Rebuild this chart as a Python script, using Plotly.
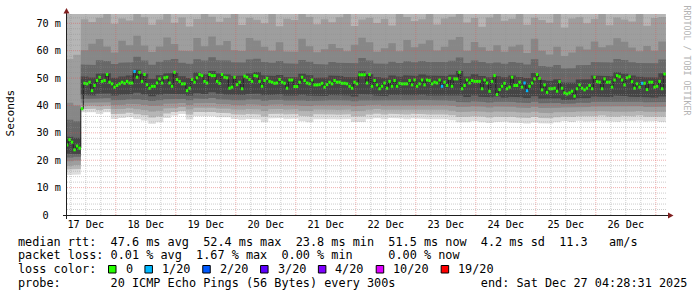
import plotly.graph_objects as go
from datetime import datetime, timedelta

# ---------------- data ----------------
graph_end = datetime(2025, 12, 27, 4, 28, 31)
graph_start = graph_end - timedelta(days=10)
data_end = datetime(2025, 12, 27, 4, 0, 0)
MEDIAN_STEP_H = 1
SMOKE_STEP_H = 3
Y_MAX = 73.4
ABOVE = 999.0  # ping beyond the top of the graph

# hourly median rtt (ms)
median_rtt = [
    25.6, 27.5, 26.6, 23.8, 25.2, 24.4, 38.8,
    48.1, 47.9, 48.5, 45.4, 47.3, 49.1, 50.3, 48.8, 49.1, 51.3, 48.5, 47.9, 46.7, 47.3,
    47.9, 48.5, 48.1, 48.8, 48.2, 48.2, 52.4, 50.3, 52.1, 48.8, 51.3, 47.6, 46.3, 47.0,
    47.0, 48.2, 49.7, 48.2, 50.1, 50.3, 48.2, 47.0, 52.1, 49.5, 48.8, 47.9, 47.9, 45.4,
    46.3, 49.5, 48.5, 50.1, 51.3, 50.9, 48.8, 48.2, 51.3, 50.9,
    50.9, 48.8, 48.1, 51.3, 50.3, 50.1, 46.3, 46.7, 50.3, 47.6, 48.5, 46.1, 50.7, 50.3,
    49.5, 48.8, 50.9, 50.7, 48.8, 47.0, 49.1, 49.9, 48.8, 48.5, 48.1, 48.2, 49.5, 48.5,
    48.1, 46.3, 49.3, 49.3, 46.9, 46.9, 48.5, 50.3, 49.1, 48.2, 47.9, 49.3, 47.5, 47.5,
    47.6, 48.1, 46.7, 47.6, 48.5, 47.9, 49.1, 48.5, 48.5, 48.1, 48.1, 47.9, 47.0, 46.3,
    48.5, 47.9, 51.2, 51.2, 51.2,
    48.2, 51.3, 47.0, 49.1, 47.5, 46.1, 47.0, 48.2, 46.3, 48.8, 47.0, 49.1, 47.0, 48.1,
    47.9, 47.9, 47.9, 49.1, 47.5, 49.3, 47.0, 47.9, 49.3, 47.5, 49.3, 49.1, 47.9, 48.5,
    48.2, 49.3, 47.0, 48.5, 47.3, 49.9, 47.0, 49.7, 49.7, 52.1, 46.1, 47.3, 49.3, 48.2,
    49.1, 48.8, 48.8, 48.8, 46.1, 49.3, 48.2, 45.2, 48.8, 50.9, 44.0, 45.8, 47.0, 48.1,
    46.1, 46.7, 50.3, 47.3,
    47.3, 48.5, 46.7, 48.2, 45.4, 47.0, 48.2, 49.7, 51.3, 49.9, 45.7, 47.5, 44.8, 46.1,
    46.1, 46.3, 45.2, 48.7, 46.3, 44.6, 44.2, 44.6, 45.2, 43.4, 46.1, 47.5, 46.3, 45.7,
    46.3, 47.3, 46.1, 50.3, 48.7, 48.5, 46.1, 49.7, 48.5, 48.5, 46.7, 49.3, 50.9, 50.5,
    49.3, 47.5, 50.1, 50.5, 48.7, 46.3, 47.9, 46.7, 48.1, 48.1, 45.8, 48.5, 48.5, 46.7,
    47.0, 48.8, 46.1, 51.5,
]

# hours (bin start) with packet loss, and lost pings out of 20
loss_times = ["2025-12-18 07:00", "2025-12-23 10:00", "2025-12-24 19:00",
              "2025-12-24 20:00", "2025-12-26 18:00"]
loss_pings = [1, 1, 1, 1, 1]

# smoke: 3-hourly band edges (ms), outer band first
smoke_L1 = [14.6, 14.8, 37.5, 37.5, 36.9, 37.5, 35.1, 35.4, 35.7, 35.1,
            34.5, 33.3, 33.9, 35.4, 36.3, 36.9, 34.9, 36.1, 36.3, 36.1,
            35.7, 35.7, 35.1, 34.8, 35.1, 34.9, 33.9, 35.2, 35.4, 35.0,
            35.2, 34.2, 33.9, 35.0, 35.2, 35.0, 34.9, 35.1, 34.0, 34.0,
            35.0, 35.3, 35.0, 35.4, 35.2, 35.0, 35.3, 35.1, 35.0, 35.2,
            35.0, 34.6, 33.9, 33.9, 34.2, 33.9, 33.6, 33.9, 34.1, 33.8,
            33.6, 33.4, 33.8, 33.5, 33.4, 33.9, 34.3, 34.0, 34.4, 34.1,
            34.3, 34.5, 34.2, 34.0, 34.4, 34.2, 34.5, 34.1, 34.3, 34.0]
smoke_L2 = [16.6, 16.8, 38.6, 38.8, 38.3, 38.7, 36.9, 37.0, 37.3, 36.8,
            36.4, 35.6, 36.0, 37.1, 37.6, 38.0, 36.7, 37.6, 37.7, 37.6,
            37.3, 37.2, 36.8, 36.6, 36.9, 36.7, 36.0, 36.9, 37.0, 36.7,
            36.9, 36.2, 36.0, 36.8, 36.9, 36.7, 36.6, 36.8, 36.0, 36.1,
            36.7, 37.0, 36.7, 37.0, 36.8, 36.7, 37.0, 36.8, 36.7, 36.9,
            36.7, 36.4, 35.8, 35.9, 36.1, 35.9, 35.6, 35.9, 36.0, 35.8,
            35.6, 35.4, 35.8, 35.4, 35.3, 35.7, 36.0, 35.8, 36.1, 35.9,
            36.1, 36.3, 36.0, 35.9, 36.2, 36.0, 36.3, 35.9, 36.1, 35.9]
smoke_L3 = [18.0, 18.3, 39.8, 40.0, 39.7, 40.0, 38.6, 38.7, 39.0, 38.6,
            38.3, 37.8, 38.1, 38.9, 39.1, 39.4, 38.5, 39.2, 39.2, 39.2,
            38.9, 38.8, 38.5, 38.4, 38.7, 38.5, 38.0, 38.6, 38.7, 38.4,
            38.6, 38.1, 38.0, 38.5, 38.6, 38.4, 38.3, 38.5, 37.9, 38.1,
            38.4, 38.7, 38.4, 38.6, 38.5, 38.4, 38.6, 38.5, 38.4, 38.6,
            38.4, 38.1, 37.6, 37.7, 37.9, 37.7, 37.5, 37.8, 37.9, 37.7,
            37.5, 37.3, 37.7, 37.3, 37.2, 37.5, 37.7, 37.6, 37.8, 37.7,
            37.9, 38.0, 37.8, 37.7, 37.9, 37.8, 38.0, 37.7, 37.8, 37.7]
smoke_L4 = [19.6, 19.9, 41.0, 41.1, 41.0, 41.2, 40.2, 40.3, 40.6, 40.4,
            40.2, 39.8, 40.0, 40.6, 40.7, 40.9, 40.2, 40.8, 40.7, 40.9,
            40.5, 40.4, 40.2, 40.1, 40.4, 40.3, 39.9, 40.3, 40.4, 40.1,
            40.2, 39.9, 39.8, 40.1, 40.2, 40.1, 40.0, 40.1, 39.7, 39.9,
            40.1, 40.3, 40.0, 40.2, 40.1, 40.1, 40.2, 40.2, 40.0, 40.2,
            40.1, 39.9, 39.4, 39.5, 39.7, 39.5, 39.3, 39.6, 39.6, 39.5,
            39.3, 39.1, 39.5, 39.1, 39.0, 39.2, 39.3, 39.3, 39.5, 39.4,
            39.6, 39.7, 39.5, 39.5, 39.6, 39.5, 39.7, 39.4, 39.5, 39.5]
smoke_L5 = [21.0, 21.3, 42.4, 42.3, 42.5, 42.6, 41.9, 42.0, 42.2, 42.3,
            42.0, 41.6, 41.9, 42.3, 42.3, 42.4, 41.9, 42.5, 42.4, 42.7,
            42.3, 42.1, 41.9, 41.9, 42.2, 42.2, 41.7, 42.0, 42.1, 41.8,
            41.9, 41.8, 41.6, 41.8, 41.8, 41.9, 41.8, 41.8, 41.5, 41.8,
            41.9, 41.9, 41.7, 41.9, 41.8, 41.9, 41.9, 42.0, 41.8, 41.9,
            41.8, 41.7, 41.3, 41.2, 41.5, 41.3, 41.1, 41.4, 41.2, 41.3,
            41.1, 40.9, 41.4, 40.8, 40.7, 40.9, 40.6, 40.7, 41.0, 41.0,
            41.4, 41.4, 41.3, 41.5, 41.4, 41.3, 41.4, 41.2, 41.2, 41.3]
smoke_L6 = [22.4, 22.3, 43.8, 43.6, 44.3, 44.4, 43.6, 43.9, 44.1, 44.6,
            44.0, 43.4, 43.9, 44.3, 44.3, 44.1, 43.6, 44.5, 44.2, 44.8,
            44.3, 44.0, 43.8, 43.8, 44.2, 44.3, 43.7, 43.9, 44.0, 43.6,
            43.6, 43.9, 43.6, 43.5, 43.5, 43.8, 43.7, 43.6, 43.3, 44.1,
            43.9, 43.6, 43.4, 43.8, 43.6, 43.8, 43.7, 43.9, 43.6, 43.8,
            43.6, 43.7, 43.6, 43.1, 43.6, 43.2, 43.0, 43.3, 42.9, 43.2,
            43.0, 42.7, 43.4, 42.5, 42.4, 42.6, 42.0, 42.1, 42.6, 42.7,
            43.3, 43.2, 43.1, 43.6, 43.4, 43.2, 43.1, 43.0, 42.9, 43.3]
smoke_U6 = [28.6, 28.2, 50.6, 50.2, 51.6, 51.8, 50.1, 50.6, 50.9, 53.0,
            51.6, 49.8, 51.0, 51.7, 51.9, 50.7, 50.0, 52.0, 51.4, 52.6,
            51.7, 51.3, 50.8, 50.9, 51.7, 52.2, 51.0, 50.8, 51.1, 50.4,
            50.3, 51.6, 51.0, 50.1, 50.2, 50.9, 50.8, 50.4, 50.3, 52.5,
            51.4, 50.4, 50.1, 50.9, 50.6, 51.0, 50.8, 51.3, 50.9, 51.0,
            50.8, 51.2, 52.6, 50.6, 51.4, 50.8, 50.3, 50.7, 50.3, 50.9,
            50.4, 50.0, 51.9, 49.3, 49.0, 49.6, 48.4, 48.3, 49.5, 49.6,
            50.9, 50.8, 50.7, 52.1, 51.6, 50.9, 50.5, 50.3, 50.2, 51.8]
smoke_U5 = [34.8, 34.2, 55.0, 54.8, 56.5, 56.2, 55.1, 55.6, 55.8, 57.8,
            56.4, 54.9, 56.0, 56.5, 57.0, 55.6, 55.2, 56.9, 56.4, 57.6,
            56.5, 56.4, 55.8, 55.7, 56.8, 57.1, 55.9, 55.6, 56.2, 55.4,
            55.2, 56.6, 56.0, 55.1, 55.0, 55.9, 55.6, 55.4, 55.4, 57.3,
            56.4, 55.3, 55.2, 56.0, 55.5, 56.1, 55.8, 56.2, 55.9, 55.9,
            55.9, 56.3, 57.5, 55.5, 56.4, 55.9, 55.4, 55.7, 55.2, 55.9,
            55.6, 55.0, 56.9, 54.4, 54.1, 54.8, 53.5, 53.6, 54.7, 54.8,
            55.9, 55.8, 55.7, 57.0, 56.6, 55.8, 55.5, 55.3, 55.4, 56.8]
smoke_U4 = [41.0, 40.0, 60.2, 62.5, 64.3, 61.5, 59.3, 63.6, 62.0, 65.5,
            61.9, 59.5, 61.5, 64.8, 62.4, 60.0, 59.8, 64.6, 61.6, 65.2,
            62.0, 63.5, 60.2, 59.9, 64.6, 63.7, 61.4, 60.0, 63.1, 59.7,
            59.6, 64.4, 61.6, 59.4, 60.5, 62.4, 61.0, 59.8, 62.2, 64.7,
            63.1, 59.6, 60.9, 62.7, 59.8, 63.9, 61.3, 62.5, 63.8, 60.1,
            61.4, 64.0, 65.0, 60.0, 63.2, 61.3, 59.9, 62.0, 59.6, 61.5,
            62.2, 59.2, 64.4, 60.0, 58.6, 61.4, 58.1, 59.3, 61.5, 60.4,
            63.4, 61.3, 62.0, 64.5, 63.3, 61.2, 59.8, 61.7, 60.0, 63.4]
smoke_U3 = [57.0, 58.5, 71.5, 70.5, 72.0, ABOVE, 69.8, 71.8, 71.0, ABOVE,
            72.2, 69.5, 71.4, ABOVE, 70.2, 72.1, 68.8, 71.6, ABOVE, 72.4,
            70.6, 71.9, ABOVE, 69.4, 72.0, 71.3, 70.0, ABOVE, 68.9, 71.7,
            71.2, ABOVE, 72.3, 69.7, 71.5, 70.4, 72.2, ABOVE, 69.0, 71.4,
            72.0, 70.1, 71.6, 69.2, ABOVE, 72.3, 70.8, 71.5, ABOVE, 69.6,
            71.8, 72.4, ABOVE, 70.3, 71.9, 68.7, 72.1, ABOVE, 70.9, 71.7,
            ABOVE, 69.5, 72.0, 71.2, 70.2, ABOVE, 68.5, 71.8, 72.2, 70.0,
            71.6, ABOVE, 69.3, 72.1, 71.4, 70.7, ABOVE, 69.1, 71.9, 72.3]

loss_bins = [0, 1, 2, 3, 4, 10, 19]
loss_bin_labels = ["0", "1/20", "2/20", "3/20", "4/20", "10/20", "19/20"]
loss_bin_colors = ["#26ff00", "#00b8ff", "#0059ff", "#5e00ff", "#7e00ff", "#dd00ff", "#ff0000"]

smoke_colors = ["#dddddd", "#b6b6b6", "#9e9e9e", "#878787", "#686868", "#454545"]

y_ticks = [0, 10, 20, 30, 40, 50, 60, 70]
y_tick_text = ["0\u00a0\u00a0", "10 m", "20 m", "30 m", "40 m", "50 m", "60 m", "70 m"]
x_label_days = [17, 18, 19, 20, 21, 22, 23, 24, 25, 26]

legend_line1 = "median rtt:  47.6 ms avg  52.4 ms max  23.8 ms min  51.5 ms now  4.2 ms sd  11.3   am/s"
legend_line2 = "packet loss: 0.01 % avg  1.67 % max  0.00 % min     0.00 % now"
legend_line3 = "loss color:"
legend_line4 = "probe:       20 ICMP Echo Pings (56 Bytes) every 300s            end: Sat Dec 27 04:28:31 2025"

# ---------------- layout geometry (pixels) ----------------
W, H = 697, 297
PL, PR, PT, PB = 67, 667, 14, 215
MONO = "DejaVu Sans Mono"
CW = 7.13  # legend char width


def fx(px):
    return (px - PL) / (PR - PL)


def fy(py):
    return (PB - py) / (PB - PT)


def bin_edges(n, step_h):
    first = data_end - timedelta(hours=n * step_h)
    return [first + timedelta(hours=i * step_h) for i in range(n + 1)]


fig = go.Figure()

# ---- smoke ----
se = bin_edges(len(smoke_L1), SMOKE_STEP_H)
off_scale = [ABOVE] * len(smoke_L1)
bands = [(smoke_L1, off_scale), (smoke_L2, off_scale), (smoke_L3, smoke_U3),
         (smoke_L4, smoke_U4), (smoke_L5, smoke_U5), (smoke_L6, smoke_U6)]
for (lo, hi), col in zip(bands, smoke_colors):
    xs, ys = [], []
    for i in range(len(lo)):
        xs += [se[i], se[i + 1]]
        ys += [lo[i], lo[i]]
    for i in reversed(range(len(hi))):
        xs += [se[i + 1], se[i]]
        ys += [hi[i], hi[i]]
    fig.add_trace(go.Scatter(x=xs, y=ys, mode="lines", line=dict(width=0),
                             fill="toself", fillcolor=col, hoverinfo="skip"))

# ---- median ----
me = bin_edges(len(median_rtt), MEDIAN_STEP_H)
fig.add_trace(go.Scatter(x=me, y=median_rtt + [median_rtt[-1]], mode="lines",
                         line=dict(color="#202020", width=1, shape="hv"), hoverinfo="skip"))

loss_by_time = {datetime.fromisoformat(t): c for t, c in zip(loss_times, loss_pings)}
for b, col in zip(loss_bins, loss_bin_colors):
    xs, ys = [], []
    for i, v in enumerate(median_rtt):
        c = loss_by_time.get(me[i], 0)
        k = next(bb for bb in loss_bins if c <= bb)
        if k != b:
            continue
        xs += [me[i], me[i + 1], None]
        ys += [v, v, None]
    if xs:
        fig.add_trace(go.Scatter(x=xs, y=ys, mode="lines",
                                 line=dict(color=col, width=3), hoverinfo="skip"))

# ---- grid on top ----
minor_col = "rgba(143,143,143,0.45)"
major_col = "rgba(222,79,79,0.45)"
t = datetime(2025, 12, 17, 6)
while t < graph_end:
    fig.add_shape(type="line", xref="x", yref="y", x0=t, x1=t, y0=0, y1=Y_MAX,
                  line=dict(color=major_col if t.hour == 0 else minor_col, width=1, dash="1px,1px"),
                  layer="above")
    t += timedelta(hours=6)
v = 2
while v < Y_MAX:
    fig.add_shape(type="line", xref="x", yref="y", x0=graph_start, x1=graph_end, y0=v, y1=v,
                  line=dict(color=major_col if v % 10 == 0 else minor_col, width=1, dash="1px,1px"),
                  layer="above")
    v += 2

# ---- axes lines and arrows ----
axis_col = "#1f1f1f"
arrow_col = "#7f1f1f"
fig.add_shape(type="line", xref="paper", yref="paper", x0=fx(63), x1=fx(669),
              y0=fy(215.5), y1=fy(215.5), line=dict(color=axis_col, width=1), layer="above")
fig.add_shape(type="line", xref="paper", yref="paper", x0=fx(66.5), x1=fx(66.5),
              y0=fy(219), y1=fy(12), line=dict(color=axis_col, width=1), layer="above")
fig.add_shape(type="path", xref="paper", yref="paper",
              path=f"M {fx(63.5)},{fy(13.5)} L {fx(66.5)},{fy(8)} L {fx(69.5)},{fy(13.5)} Z",
              fillcolor=arrow_col, line=dict(width=0), layer="above")
fig.add_shape(type="path", xref="paper", yref="paper",
              path=f"M {fx(668)},{fy(212.5)} L {fx(673.5)},{fy(215.5)} L {fx(668)},{fy(218.5)} Z",
              fillcolor=arrow_col, line=dict(width=0), layer="above")

# ---- legend text ----
line_y = [241.5, 255.3, 269.0, 282.8]
ann = []
for txt, py in zip([legend_line1, legend_line2, legend_line3, legend_line4], line_y):
    ann.append(dict(text=txt.replace(" ", "\u00a0"), x=fx(15.5), y=fy(py), xref="paper", yref="paper",
                    xanchor="left", yanchor="middle", showarrow=False,
                    font=dict(family=MONO, size=11.84, color="black")))
lx = 124.0
for lab, col in zip(loss_bin_labels, loss_bin_colors):
    fig.add_shape(type="rect", xref="paper", yref="paper",
                  x0=fx(lx - 15.5), x1=fx(lx - 8.0), y0=fy(273), y1=fy(265.5),
                  fillcolor=col, line=dict(color="black", width=1))
    ann.append(dict(text=lab, x=fx(lx - 0.5), y=fy(line_y[2]), xref="paper", yref="paper",
                    xanchor="left", yanchor="middle", showarrow=False,
                    font=dict(family=MONO, size=11.84, color="black")))
    lx += len(lab) * CW + 29.3

ann.append(dict(text="Seconds", x=fx(10), y=fy(113.5), xref="paper", yref="paper",
                xanchor="center", yanchor="middle", textangle=-90, showarrow=False,
                font=dict(family=MONO, size=11.1, color="black")))
ann.append(dict(text="RRDTOOL / TOBI OETIKER".replace(" ", "\u00a0"), x=fx(686.5), y=fy(60),
                xref="paper", yref="paper", xanchor="center", yanchor="middle", textangle=90,
                showarrow=False, font=dict(family=MONO, size=8.3, color="#b3b3b3")))

fig.update_layout(
    width=W, height=H,
    margin=dict(l=PL, r=W - PR, t=PT, b=H - PB, pad=0),
    paper_bgcolor="white", plot_bgcolor="white",
    showlegend=False,
    annotations=ann,
    xaxis=dict(type="date", range=[graph_start, graph_end], showgrid=False, zeroline=False,
               showline=False, tickmode="array",
               tickvals=[datetime(2025, 12, d, 12) for d in x_label_days],
               ticktext=[f"{d}\u00a0Dec" for d in x_label_days], ticks="",
               tickfont=dict(family=MONO, size=10.2, color="black"), ticklabelstandoff=2,
               fixedrange=True),
    yaxis=dict(range=[0, Y_MAX], showgrid=False, zeroline=False, showline=False,
               tickmode="array", tickvals=y_ticks, ticktext=y_tick_text, ticks="",
               tickfont=dict(family=MONO, size=10.2, color="black"), ticklabelstandoff=5,
               fixedrange=True),
)

fig.write_html("out.html")
